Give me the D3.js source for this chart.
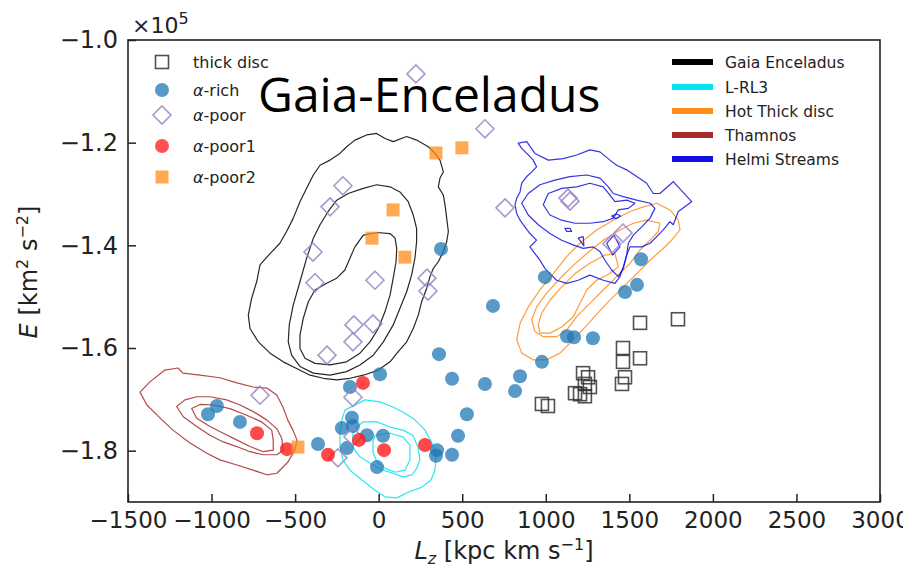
<!DOCTYPE html>
<html>
<head>
<meta charset="utf-8">
<script src="https://cdn.jsdelivr.net/npm/d3@7"></script>
<style>
  html, body { margin: 0; padding: 0; background: #fff; }
  svg { display: block; }
  text { font-family: "DejaVu Sans", sans-serif; fill: #222; }
</style>
</head>
<body>
<svg id="chart" width="903" height="573"></svg>
<script>
// Axis ticks (Lz in kpc km/s, E in units of 1e5 km^2 s^-2)
const lzTicks = [-1500, -1000, -500, 0, 500, 1000, 1500, 2000, 2500, 3000];
const eTicks = [-1.0, -1.2, -1.4, -1.6, -1.8];

// Stars: [Lz, E]
const thickDisc = [[1564,-1.551],[1791,-1.544],[1462,-1.600],[1462,-1.627],[1564,-1.620],[1474,-1.657],[1456,-1.670],
  [1223,-1.649],[1253,-1.657],[1234,-1.670],[1264,-1.676],[1175,-1.688],[1205,-1.690],[1234,-1.694],[977,-1.709],[1013,-1.713]];
const alphaRich = [[-1021,-1.729],[-968,-1.713],[-830,-1.744],[-363,-1.787],[-220,-1.756],[-160,-1.736],[-154,-1.752],
  [-190,-1.795],[-172,-1.676],[-70,-1.770],[26,-1.771],[-10,-1.832],[8,-1.651],[349,-1.799],[343,-1.810],[439,-1.808],
  [475,-1.771],[528,-1.729],[439,-1.660],[361,-1.612],[373,-1.407],[636,-1.670],[846,-1.655],[816,-1.684],[977,-1.627],
  [684,-1.518],[995,-1.462],[1127,-1.577],[1169,-1.579],[1282,-1.581],[1474,-1.491],[1546,-1.477],[1570,-1.427]];
const alphaPoor = [[223,-1.066],[636,-1.173],[-214,-1.284],[-291,-1.325],[-393,-1.413],[-381,-1.473],[-22,-1.468],
  [289,-1.464],[295,-1.489],[-148,-1.555],[-34,-1.553],[-154,-1.588],[-309,-1.614],[-710,-1.692],[-154,-1.696],
  [-154,-1.773],[-244,-1.814],[756,-1.327],[1133,-1.308],[1145,-1.314],[1462,-1.376],[1396,-1.397]];
const alphaPoor1 = [[-728,-1.766],[-549,-1.797],[-303,-1.808],[-94,-1.668],[-118,-1.779],[32,-1.799],[277,-1.789]];
const alphaPoor2 = [[343,-1.220],[498,-1.210],[86,-1.331],[-40,-1.386],[157,-1.423],[-483,-1.793]];

// Density contours of each substructure: list of closed rings of [Lz, E]
const gaiaEnceladus = [
  [[-72,-1.185],[-12,-1.182],[38,-1.192],[87,-1.198],[168,-1.188],[227,-1.195],[297,-1.208],[337,-1.221],[367,-1.234],
   [387,-1.257],[367,-1.269],[357,-1.286],[387,-1.302],[397,-1.321],[407,-1.347],[417,-1.373],[407,-1.393],[387,-1.412],
   [357,-1.432],[327,-1.445],[307,-1.461],[287,-1.484],[257,-1.510],[237,-1.536],[207,-1.562],[168,-1.588],[117,-1.607],
   [68,-1.627],[-2,-1.643],[-92,-1.653],[-172,-1.659],[-251,-1.662],[-331,-1.659],[-411,-1.653],[-491,-1.640],[-571,-1.627],
   [-650,-1.610],[-720,-1.588],[-770,-1.562],[-780,-1.536],[-760,-1.503],[-730,-1.471],[-710,-1.438],[-650,-1.416],
   [-591,-1.396],[-551,-1.373],[-511,-1.347],[-471,-1.315],[-431,-1.289],[-391,-1.263],[-351,-1.244],[-291,-1.234],
   [-232,-1.221],[-192,-1.208],[-142,-1.195]],
  [[-92,-1.289],[-12,-1.282],[68,-1.286],[127,-1.296],[177,-1.315],[207,-1.341],[227,-1.367],[227,-1.393],[217,-1.425],
   [197,-1.458],[168,-1.490],[127,-1.523],[87,-1.555],[28,-1.588],[-32,-1.614],[-112,-1.633],[-192,-1.646],[-291,-1.653],
   [-391,-1.649],[-471,-1.636],[-521,-1.614],[-541,-1.588],[-535,-1.555],[-511,-1.516],[-471,-1.471],[-431,-1.425],
   [-391,-1.386],[-351,-1.360],[-302,-1.334],[-251,-1.312],[-182,-1.299]],
  [[-92,-1.380],[-12,-1.375],[68,-1.377],[98,-1.386],[108,-1.406],[104,-1.432],[87,-1.464],[68,-1.497],[38,-1.529],
   [-2,-1.562],[-52,-1.588],[-112,-1.610],[-192,-1.627],[-291,-1.633],[-381,-1.630],[-441,-1.620],[-471,-1.601],
   [-471,-1.575],[-451,-1.542],[-421,-1.510],[-381,-1.487],[-311,-1.474],[-251,-1.464],[-202,-1.448],[-172,-1.425],
   [-142,-1.403]]
];
const lrl3 = [
  [[-202,-1.721],[-82,-1.701],[8,-1.705],[86,-1.715],[157,-1.727],[217,-1.740],[277,-1.760],[319,-1.785],[343,-1.812],
   [337,-1.838],[313,-1.857],[259,-1.871],[175,-1.881],[110,-1.892],[38,-1.890],[-22,-1.877],[-100,-1.857],[-172,-1.838],
   [-214,-1.818],[-232,-1.793],[-232,-1.766],[-220,-1.740]],
  [[-94,-1.744],[-10,-1.744],[68,-1.754],[145,-1.760],[205,-1.770],[235,-1.793],[247,-1.818],[229,-1.834],[199,-1.847],
   [145,-1.851],[86,-1.844],[26,-1.838],[-34,-1.828],[-112,-1.812],[-154,-1.793],[-154,-1.766],[-130,-1.754]],
  [[-22,-1.770],[68,-1.766],[145,-1.773],[187,-1.789],[187,-1.818],[157,-1.838],[98,-1.842],[38,-1.834],[-10,-1.822],
   [-34,-1.803],[-34,-1.783]]
];
const hotThickDisc = [
  [[1664,-1.318],[1743,-1.331],[1793,-1.351],[1803,-1.370],[1753,-1.390],[1693,-1.409],[1624,-1.429],[1544,-1.455],
   [1464,-1.481],[1364,-1.513],[1264,-1.549],[1164,-1.584],[1085,-1.610],[1005,-1.623],[925,-1.623],[856,-1.610],
   [826,-1.584],[846,-1.552],[895,-1.520],[965,-1.487],[1045,-1.455],[1125,-1.422],[1205,-1.396],[1304,-1.370],
   [1404,-1.351],[1504,-1.334],[1584,-1.325]],
  [[1604,-1.351],[1683,-1.357],[1673,-1.373],[1624,-1.390],[1564,-1.409],[1504,-1.435],[1424,-1.461],[1344,-1.487],
   [1264,-1.513],[1185,-1.539],[1125,-1.565],[1065,-1.578],[985,-1.578],[935,-1.568],[916,-1.545],[945,-1.520],
   [1005,-1.493],[1075,-1.468],[1155,-1.442],[1245,-1.416],[1344,-1.390],[1444,-1.370],[1524,-1.357]],
  [[1414,-1.416],[1434,-1.442],[1384,-1.455],[1304,-1.468],[1245,-1.487],[1205,-1.513],[1164,-1.539],[1095,-1.559],
   [1025,-1.571],[965,-1.571],[955,-1.555],[975,-1.532],[1025,-1.507],[1095,-1.481],[1175,-1.455],[1264,-1.435],
   [1354,-1.419]]
];
const thamnos = [
  [[-1428,-1.686],[-1369,-1.666],[-1279,-1.643],[-1201,-1.639],[-1171,-1.649],[-1069,-1.653],[-950,-1.658],[-848,-1.668],
   [-752,-1.676],[-668,-1.678],[-609,-1.692],[-573,-1.715],[-543,-1.741],[-513,-1.760],[-489,-1.779],[-501,-1.799],
   [-543,-1.822],[-609,-1.844],[-668,-1.847],[-752,-1.838],[-848,-1.828],[-950,-1.818],[-1028,-1.805],[-1129,-1.785],
   [-1231,-1.760],[-1309,-1.736],[-1387,-1.711]],
  [[-1209,-1.714],[-1159,-1.701],[-1089,-1.695],[-1009,-1.695],[-910,-1.701],[-830,-1.711],[-750,-1.724],[-670,-1.740],
   [-610,-1.757],[-580,-1.776],[-571,-1.799],[-610,-1.808],[-690,-1.808],[-770,-1.802],[-850,-1.792],[-930,-1.783],
   [-1009,-1.770],[-1089,-1.753],[-1169,-1.734]],
  [[-1119,-1.718],[-1069,-1.710],[-990,-1.711],[-890,-1.718],[-790,-1.731],[-700,-1.744],[-640,-1.760],[-631,-1.779],
   [-631,-1.799],[-690,-1.802],[-770,-1.792],[-850,-1.779],[-930,-1.766],[-1009,-1.753],[-1089,-1.737]]
];
const helmiStreams = [
  [[835,-1.201],[886,-1.198],[935,-1.221],[1015,-1.234],[1105,-1.231],[1185,-1.224],[1264,-1.214],[1324,-1.218],
   [1384,-1.234],[1424,-1.244],[1484,-1.253],[1544,-1.266],[1604,-1.279],[1643,-1.299],[1683,-1.299],[1763,-1.276],
   [1873,-1.315],[1793,-1.334],[1763,-1.360],[1743,-1.354],[1703,-1.370],[1664,-1.383],[1624,-1.396],[1574,-1.403],
   [1504,-1.403],[1484,-1.419],[1464,-1.442],[1444,-1.461],[1414,-1.474],[1344,-1.468],[1264,-1.458],[1194,-1.468],
   [1125,-1.474],[1065,-1.468],[1025,-1.455],[995,-1.445],[965,-1.429],[935,-1.416],[905,-1.403],[945,-1.390],
   [905,-1.377],[875,-1.364],[846,-1.351],[826,-1.338],[816,-1.321],[826,-1.308],[846,-1.296],[856,-1.279],[886,-1.266],
   [916,-1.257],[945,-1.247],[925,-1.234],[886,-1.221],[856,-1.211]],
  [[856,-1.318],[895,-1.299],[965,-1.282],[1055,-1.273],[1145,-1.266],[1245,-1.263],[1324,-1.269],[1374,-1.286],
   [1404,-1.299],[1464,-1.305],[1544,-1.312],[1624,-1.318],[1653,-1.328],[1624,-1.347],[1574,-1.364],[1524,-1.380],
   [1494,-1.396],[1484,-1.419],[1464,-1.445],[1434,-1.461],[1394,-1.448],[1354,-1.429],[1324,-1.412],[1284,-1.403],
   [1224,-1.406],[1164,-1.399],[1095,-1.390],[1025,-1.377],[955,-1.360],[895,-1.341]],
  [[985,-1.321],[1015,-1.299],[1095,-1.289],[1185,-1.286],[1264,-1.279],[1344,-1.286],[1384,-1.302],[1414,-1.315],
   [1484,-1.312],[1534,-1.318],[1494,-1.328],[1434,-1.331],[1404,-1.347],[1344,-1.354],[1264,-1.357],[1175,-1.357],
   [1095,-1.351],[1025,-1.341]],
  [[1394,-1.343],[1424,-1.339],[1448,-1.343],[1420,-1.348]],
  [[1115,-1.367],[1145,-1.367],[1155,-1.373],[1125,-1.373]],
  [[1194,-1.386],[1224,-1.383],[1228,-1.401]],
  [[1364,-1.396],[1408,-1.380],[1444,-1.403],[1400,-1.419]]
];

const structures = [
  { name: "Gaia Enceladus", color: "#000000", rings: gaiaEnceladus },
  { name: "L-RL3", color: "#00e5ee", rings: lrl3 },
  { name: "Hot Thick disc", color: "#ff8c1a", rings: hotThickDisc },
  { name: "Thamnos", color: "#a52a2a", rings: thamnos },
  { name: "Helmi Streams", color: "#1010e0", rings: helmiStreams }
];

const svg = d3.select("#chart");
const plotLeft = 128, plotRight = 880, plotTop = 40, plotBottom = 502;

const x = d3.scaleLinear().domain([-1500, 3000]).range([plotLeft, plotRight]);
const y = d3.scaleLinear().domain([-1.9, -1.0]).range([plotBottom, plotTop]);

const plot = svg.append("g");
plot.append("defs").append("clipPath").attr("id", "clip")
  .append("rect").attr("x", plotLeft).attr("y", plotTop)
  .attr("width", plotRight - plotLeft).attr("height", plotBottom - plotTop);

// contours
const ring = d3.line().x(d => x(d[0])).y(d => y(d[1])).curve(d3.curveLinearClosed);
const cg = plot.append("g").attr("clip-path", "url(#clip)");
structures.forEach(s => {
  cg.append("g").selectAll("path").data(s.rings).join("path")
    .attr("d", ring).attr("fill", "none")
    .attr("stroke", s.color).attr("stroke-width", 1.2).attr("stroke-linejoin", "round")
    .attr("opacity", 0.85);
});

// scatter markers
const mg = plot.append("g").attr("clip-path", "url(#clip)");
const sq = 6.5, rad = 7, dia = 9;
function drawSquares(data, fill, stroke, op) {
  mg.append("g").selectAll("rect").data(data).join("rect")
    .attr("x", d => x(d[0]) - sq).attr("y", d => y(d[1]) - sq)
    .attr("width", sq * 2).attr("height", sq * 2)
    .attr("fill", fill).attr("stroke", stroke).attr("stroke-width", 1.6).attr("opacity", op);
}
function drawCircles(data, fill, op) {
  mg.append("g").selectAll("circle").data(data).join("circle")
    .attr("cx", d => x(d[0])).attr("cy", d => y(d[1])).attr("r", rad)
    .attr("fill", fill).attr("opacity", op);
}
const diamondPath = (cx, cy) => `M${cx},${cy - dia}L${cx + dia},${cy}L${cx},${cy + dia}L${cx - dia},${cy}Z`;
function drawDiamonds(data) {
  mg.append("g").selectAll("path").data(data).join("path")
    .attr("d", d => diamondPath(x(d[0]), y(d[1])))
    .attr("fill", "none").attr("stroke", "#9a86c4").attr("stroke-width", 1.6).attr("opacity", 0.85);
}
drawSquares(thickDisc, "none", "#333", 0.85);
drawCircles(alphaRich, "#1f77b4", 0.75);
drawDiamonds(alphaPoor);
drawCircles(alphaPoor1, "#ff1a1a", 0.8);
drawSquares(alphaPoor2, "#ff8c1a", "none", 0.75);

// axes
const xAxis = d3.axisBottom(x).tickValues(lzTicks).tickSizeInner(-8).tickSizeOuter(0).tickPadding(10)
  .tickFormat(d3.format("d"));
const yAxis = d3.axisLeft(y).tickValues(eTicks).tickSizeInner(-8).tickSizeOuter(0).tickPadding(10)
  .tickFormat(d3.format(".1f"));
const gx = svg.append("g").attr("transform", `translate(0,${plotBottom})`).call(xAxis);
const gy = svg.append("g").attr("transform", `translate(${plotLeft},0)`).call(yAxis);
[gx, gy].forEach(g => {
  g.select(".domain").remove();
  g.selectAll("line").attr("stroke", "#222").attr("stroke-width", 1.5);
  g.selectAll("text").attr("font-family", "DejaVu Sans").attr("fill", "#222");
});
gx.selectAll("text").attr("font-size", 23);
gy.selectAll("text").attr("font-size", 24);
svg.append("rect").attr("x", plotLeft).attr("y", plotTop)
  .attr("width", plotRight - plotLeft).attr("height", plotBottom - plotTop)
  .attr("fill", "none").attr("stroke", "#222").attr("stroke-width", 1.6);

// offset label
const off = svg.append("text").attr("x", 132).attr("y", 33).attr("font-size", 22);
off.append("tspan").text("×10");
off.append("tspan").attr("dy", -9).attr("font-size", 16).text("5");

// axis titles
const yl = svg.append("text").attr("transform", "translate(37,272) rotate(-90)")
  .attr("text-anchor", "middle").attr("font-size", 24);
yl.append("tspan").attr("font-style", "italic").text("E");
yl.append("tspan").text(" [km");
yl.append("tspan").attr("dy", -9).attr("font-size", 16).text("2");
yl.append("tspan").attr("dy", 9).text(" s");
yl.append("tspan").attr("dy", -9).attr("font-size", 16).text("−2");
yl.append("tspan").attr("dy", 9).text("]");

const xl = svg.append("text").attr("x", 504).attr("y", 559)
  .attr("text-anchor", "middle").attr("font-size", 24);
xl.append("tspan").attr("font-style", "italic").text("L");
xl.append("tspan").attr("dy", 5).attr("font-size", 16).attr("font-style", "italic").text("z");
xl.append("tspan").attr("dy", -5).text(" [kpc km s");
xl.append("tspan").attr("dy", -9).attr("font-size", 16).text("−1");
xl.append("tspan").attr("dy", 9).text("]");

// legend for star samples
const legL = [
  { label: "thick disc", kind: "sq" },
  { label: "α-rich", kind: "circ", color: "#1f77b4" },
  { label: "α-poor", kind: "dia" },
  { label: "α-poor1", kind: "circ", color: "#ff1a1a" },
  { label: "α-poor2", kind: "fsq" }
];
const legRows = [62, 90, 115, 146, 177];
legL.forEach((d, i) => {
  const cy = legRows[i], cx = 162;
  const g = svg.append("g");
  if (d.kind === "sq") g.append("rect").attr("x", cx - sq).attr("y", cy - sq).attr("width", sq * 2).attr("height", sq * 2)
    .attr("fill", "none").attr("stroke", "#333").attr("stroke-width", 1.6).attr("opacity", 0.85);
  if (d.kind === "fsq") g.append("rect").attr("x", cx - sq).attr("y", cy - sq).attr("width", sq * 2).attr("height", sq * 2)
    .attr("fill", "#ff8c1a").attr("opacity", 0.75);
  if (d.kind === "circ") g.append("circle").attr("cx", cx).attr("cy", cy).attr("r", rad).attr("fill", d.color).attr("opacity", 0.75);
  if (d.kind === "dia") g.append("path").attr("d", diamondPath(cx, cy)).attr("fill", "none")
    .attr("stroke", "#9a86c4").attr("stroke-width", 1.6).attr("opacity", 0.85);
  const t = g.append("text").attr("x", 193).attr("y", cy + 5.5).attr("font-size", 16).attr("fill", "#333");
  if (d.label.startsWith("α")) {
    t.append("tspan").attr("font-style", "italic").text("α");
    t.append("tspan").text(d.label.slice(1));
  } else t.text(d.label);
});

// legend for substructures
const legR = [62, 87, 111, 135, 159];
structures.forEach((s, i) => {
  svg.append("line").attr("x1", 672).attr("x2", 713).attr("y1", legR[i]).attr("y2", legR[i])
    .attr("stroke", s.color).attr("stroke-width", 6);
  svg.append("text").attr("x", 725).attr("y", legR[i] + 5.5).attr("font-size", 15.5).attr("fill", "#333").text(s.name);
});

// title
svg.append("text").attr("x", 258).attr("y", 112)
  .attr("font-size", 48).style("fill", "#000").style("font-family", "'Open Sans', 'Noto Sans', sans-serif")
  .text("Gaia-Enceladus");
</script>
</body>
</html>
